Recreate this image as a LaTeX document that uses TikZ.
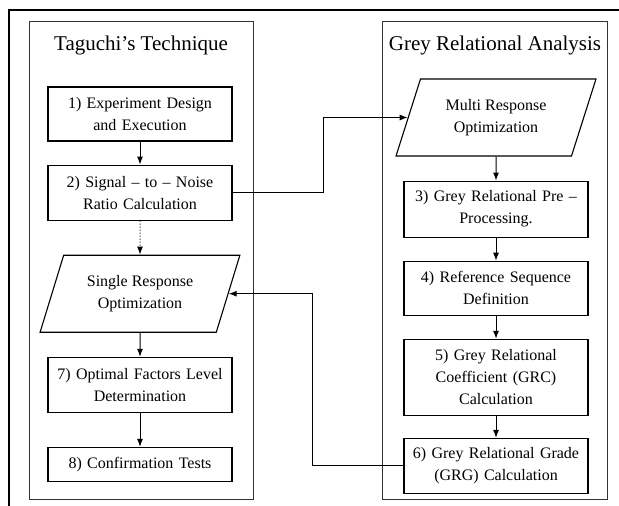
\documentclass[tikz,border=0pt]{standalone}
\usepackage{fontspec}
\setmainfont{Liberation Serif}
\usetikzlibrary{positioning, shapes.geometric, arrows.meta}

\tikzset{
  panel/.style={draw=black!80, line width=1pt},
  proc/.style={draw, line width=1.1pt, align=center, text width=176pt,
               inner sep=4pt, minimum height=55pt,
               font=\fontsize{16}{22}\selectfont},
  io/.style={draw, line width=1.1pt, shape=trapezium, trapezium left angle=68,
             trapezium right angle=112, trapezium stretches=true,
             minimum width=200pt, minimum height=77pt, align=center,
             font=\fontsize{16}{22}\selectfont},
  heading/.style={font=\fontsize{21}{25}\selectfont},
  arr/.style={-{Latex[length=8pt,width=6pt]}, line width=1pt}
}

\begin{document}
\begin{tikzpicture}[x=1pt,y=1pt]
   \useasboundingbox (0,0) rectangle (619,506);
   % frame and the two columns
   \draw[line width=2pt] (9,0) -- (9,496) -- (619,496);
   \draw[panel] (29,6) rectangle (253,484);
   \draw[panel] (382,6) rectangle (607,484);
   \node[heading] (tagT) at (141,461) {Taguchi’s Technique};
   \node[heading] (greyT) at (495,461) {Grey Relational Analysis};

   % left column
   \node[proc,minimum height=54pt] (exp) at (140,392) {1) Experiment Design\\and Execution};
   \node[proc] (snr) [below=23pt of exp] {2) Signal – to – Noise\\Ratio Calculation};
   \node[io] (single) [below=34pt of snr] {Single Response\\Optimization};
   \node[proc] (opt) [below=24pt of single] {7) Optimal Factors Level\\Determination};
   \node[proc,minimum height=34pt] (conf) [below=34pt of opt] {8) Confirmation Tests};

   % right column
   \node[io] (multi) at (496,388.5) {Multi Response\\Optimization};
   \node[proc,minimum height=56pt] (pre) [below=24pt of multi] {3) Grey Relational Pre –\\Processing.};
   \node[proc,minimum height=54pt] (refseq) [below=23pt of pre] {4) Reference Sequence\\Definition};
   \node[proc,minimum height=76pt] (grc) [below=23pt of refseq] {5) Grey Relational\\Coefficient (GRC)\\Calculation};
   \node[proc] (grg) [below=22pt of grc] {6) Grey Relational Grade\\(GRG) Calculation};

   \coordinate (turnA) at (323,300);
   \coordinate (turnB) at (312,300);

   \draw[arr] (exp) -- (snr);
   \draw[arr, dotted] (snr) -- (single);
   \draw[arr] (single) -- (opt);
   \draw[arr] (opt) -- (conf);
   \draw[arr] (multi) -- (pre);
   \draw[arr] (pre) -- (refseq);
   \draw[arr] (refseq) -- (grc);
   \draw[arr] (grc) -- (grg);
   \draw[arr] (snr.east) -| (turnA |- multi.west) -- (multi.west);
   \draw[arr] (grg.west) -| (turnB |- single.east) -- (single.east);
\end{tikzpicture}
\end{document}
